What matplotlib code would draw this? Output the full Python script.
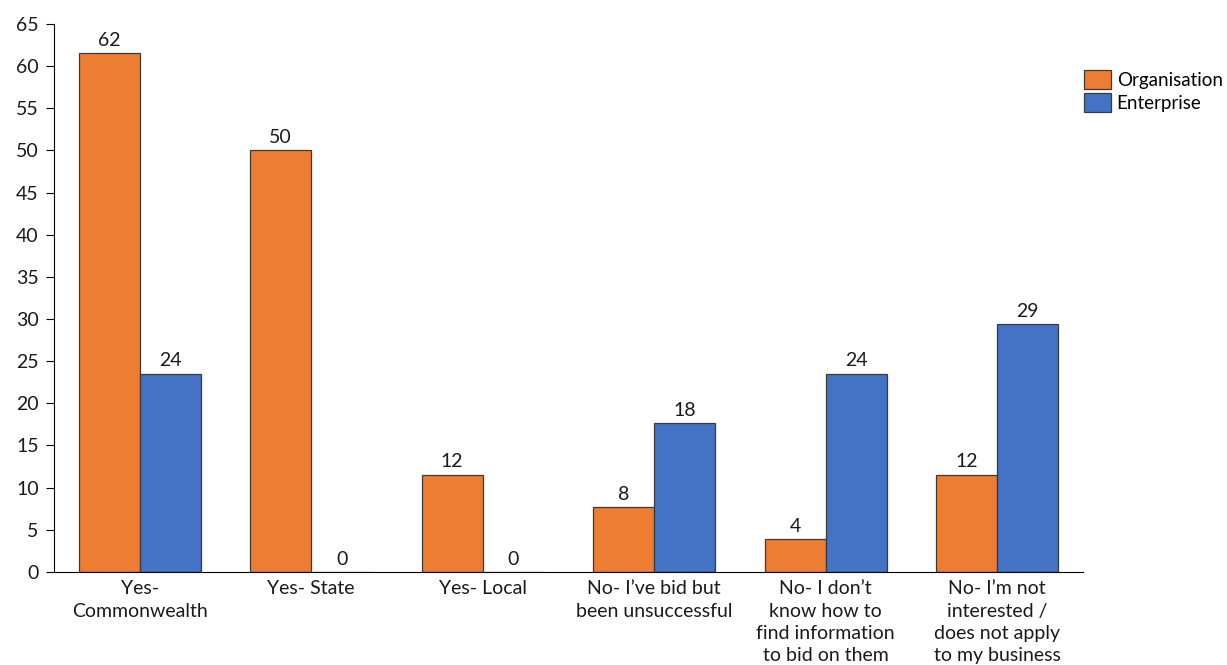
import numpy as np
import matplotlib.pyplot as plt

plt.rcParams['font.family'] = ['Lato', 'DejaVu Sans']

categories = ["Yes-\nCommonwealth", "Yes- State", "Yes- Local",
              "No- I\u2019ve bid but\nbeen unsuccessful",
              "No- I don\u2019t\nknow how to\nfind information\nto bid on them",
              "No- I\u2019m not\ninterested /\ndoes not apply\nto my business"]
organisation = [61.54, 50.0, 11.54, 7.69, 3.85, 11.54]
enterprise = [23.53, 0.0, 0.0, 17.65, 23.53, 29.41]

fig = plt.figure(figsize=(12.27, 6.65), dpi=100)
ax = fig.add_axes([0.044, 0.14, 0.8386, 0.824])

x = np.arange(len(categories))
w = 0.356
b1 = ax.bar(x - w / 2, organisation, w, color='#ED7D31', edgecolor='#3a3a3a',
            linewidth=0.9, label='Organisation')
b2 = ax.bar(x + w / 2, enterprise, w, color='#4472C4', edgecolor='#3a3a3a',
            linewidth=0.9, label='Enterprise')

# value labels, rounded to whole percent
for bars in (b1, b2):
    ax.bar_label(bars, labels=[f"{round(v):.0f}" for v in bars.datavalues],
                 padding=3, fontsize=14, color='#1a1a1a')

ax.set_xlim(-0.5, 5.5)
ax.set_ylim(0, 65)
ax.set_yticks(range(0, 66, 5))
ax.set_xticks(x)
ax.set_xticklabels(categories, fontsize=14, color='#1a1a1a', linespacing=1.38)
ax.tick_params(axis='x', length=0, pad=6)
ax.tick_params(axis='y', length=6, labelsize=14, labelcolor='#1a1a1a', pad=5)
for s in ('top', 'right'):
    ax.spines[s].set_visible(False)

fig.legend(loc='upper left', bbox_to_anchor=(0.8834, 0.895), frameon=False,
           fontsize=13.5, handlelength=1.45, handleheight=1.2, handletextpad=0.3,
           labelspacing=0.2, borderaxespad=0, borderpad=0)

fig.savefig('out.png', dpi=100)
